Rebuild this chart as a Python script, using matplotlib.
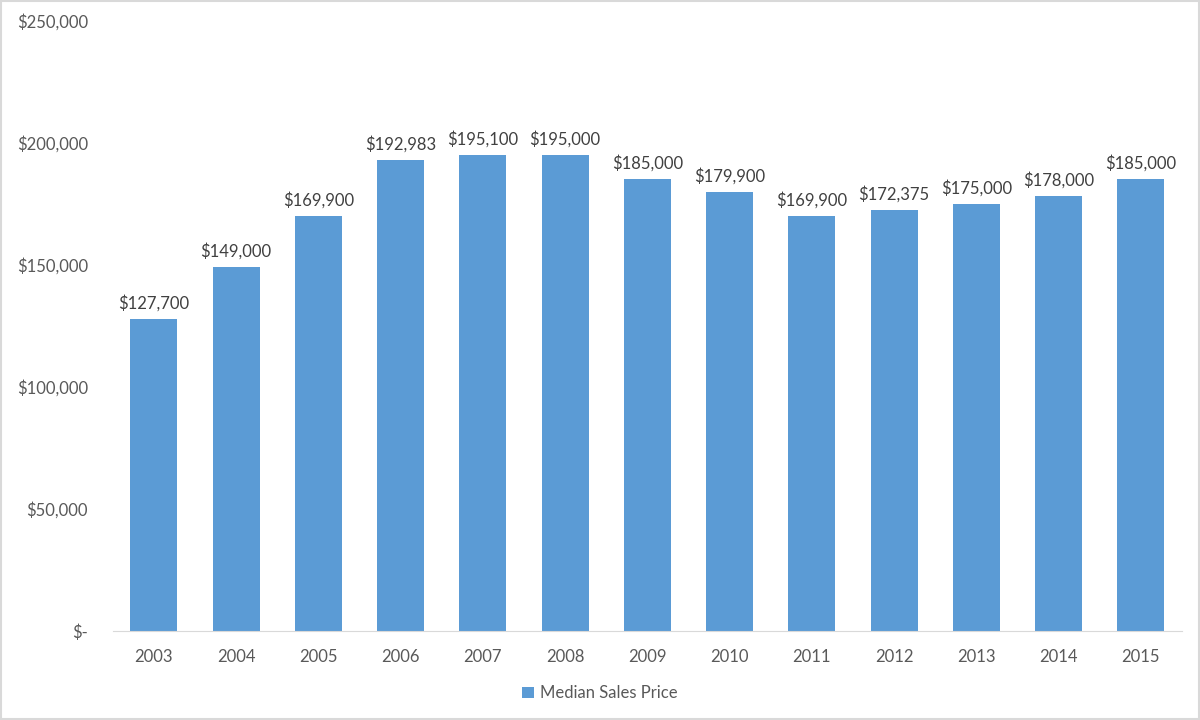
import matplotlib.pyplot as plt
from matplotlib.patches import Rectangle

years = ["2003", "2004", "2005", "2006", "2007", "2008", "2009",
         "2010", "2011", "2012", "2013", "2014", "2015"]
prices = [127700, 149000, 169900, 192983, 195100, 195000, 185000,
          179900, 169900, 172375, 175000, 178000, 185000]
yticks = [0, 50000, 100000, 150000, 200000, 250000]
ytick_labels = ["$-", "$50,000", "$100,000", "$150,000", "$200,000", "$250,000"]

plt.rcParams["font.family"] = ["Lato", "DejaVu Sans"]
txt = "#595959"
blue = "#5B9BD5"

fig = plt.figure(figsize=(12, 7.2), dpi=100)
ax = fig.add_axes([0.094, 0.1236, 0.891, 0.848])

x = range(len(years))
bars = ax.bar(x, prices, width=0.57, color=blue, label="Median Sales Price")
for xi, v in zip(x, prices):
    ax.text(xi, v + 3000, "${:,}".format(v), ha="center", va="bottom",
            fontsize=12, color="#404040")

ax.set_xlim(-0.5, len(years) - 0.5)
ax.set_ylim(0, 250000)
ax.set_xticks(list(x))
ax.set_xticklabels(years)
ax.set_yticks(yticks)
ax.set_yticklabels(ytick_labels)
ax.tick_params(axis="both", length=0, labelsize=12, colors=txt)
ax.tick_params(axis="y", pad=18)
ax.tick_params(axis="x", pad=13)
for s in ["top", "right", "left"]:
    ax.spines[s].set_visible(False)
ax.spines["bottom"].set_color("#D9D9D9")

leg = fig.legend(handles=[bars], loc="center", bbox_to_anchor=(0.5, 0.037),
                 frameon=False, fontsize=12, handlelength=0.7, handleheight=0.7,
                 handletextpad=0.4)
for t in leg.get_texts():
    t.set_color(txt)

fig.patches.append(Rectangle((0.001, 0.001), 0.998, 0.998, transform=fig.transFigure,
                             fill=False, edgecolor="#D9D9D9", linewidth=1.5))

fig.savefig("out.png", dpi=100)
